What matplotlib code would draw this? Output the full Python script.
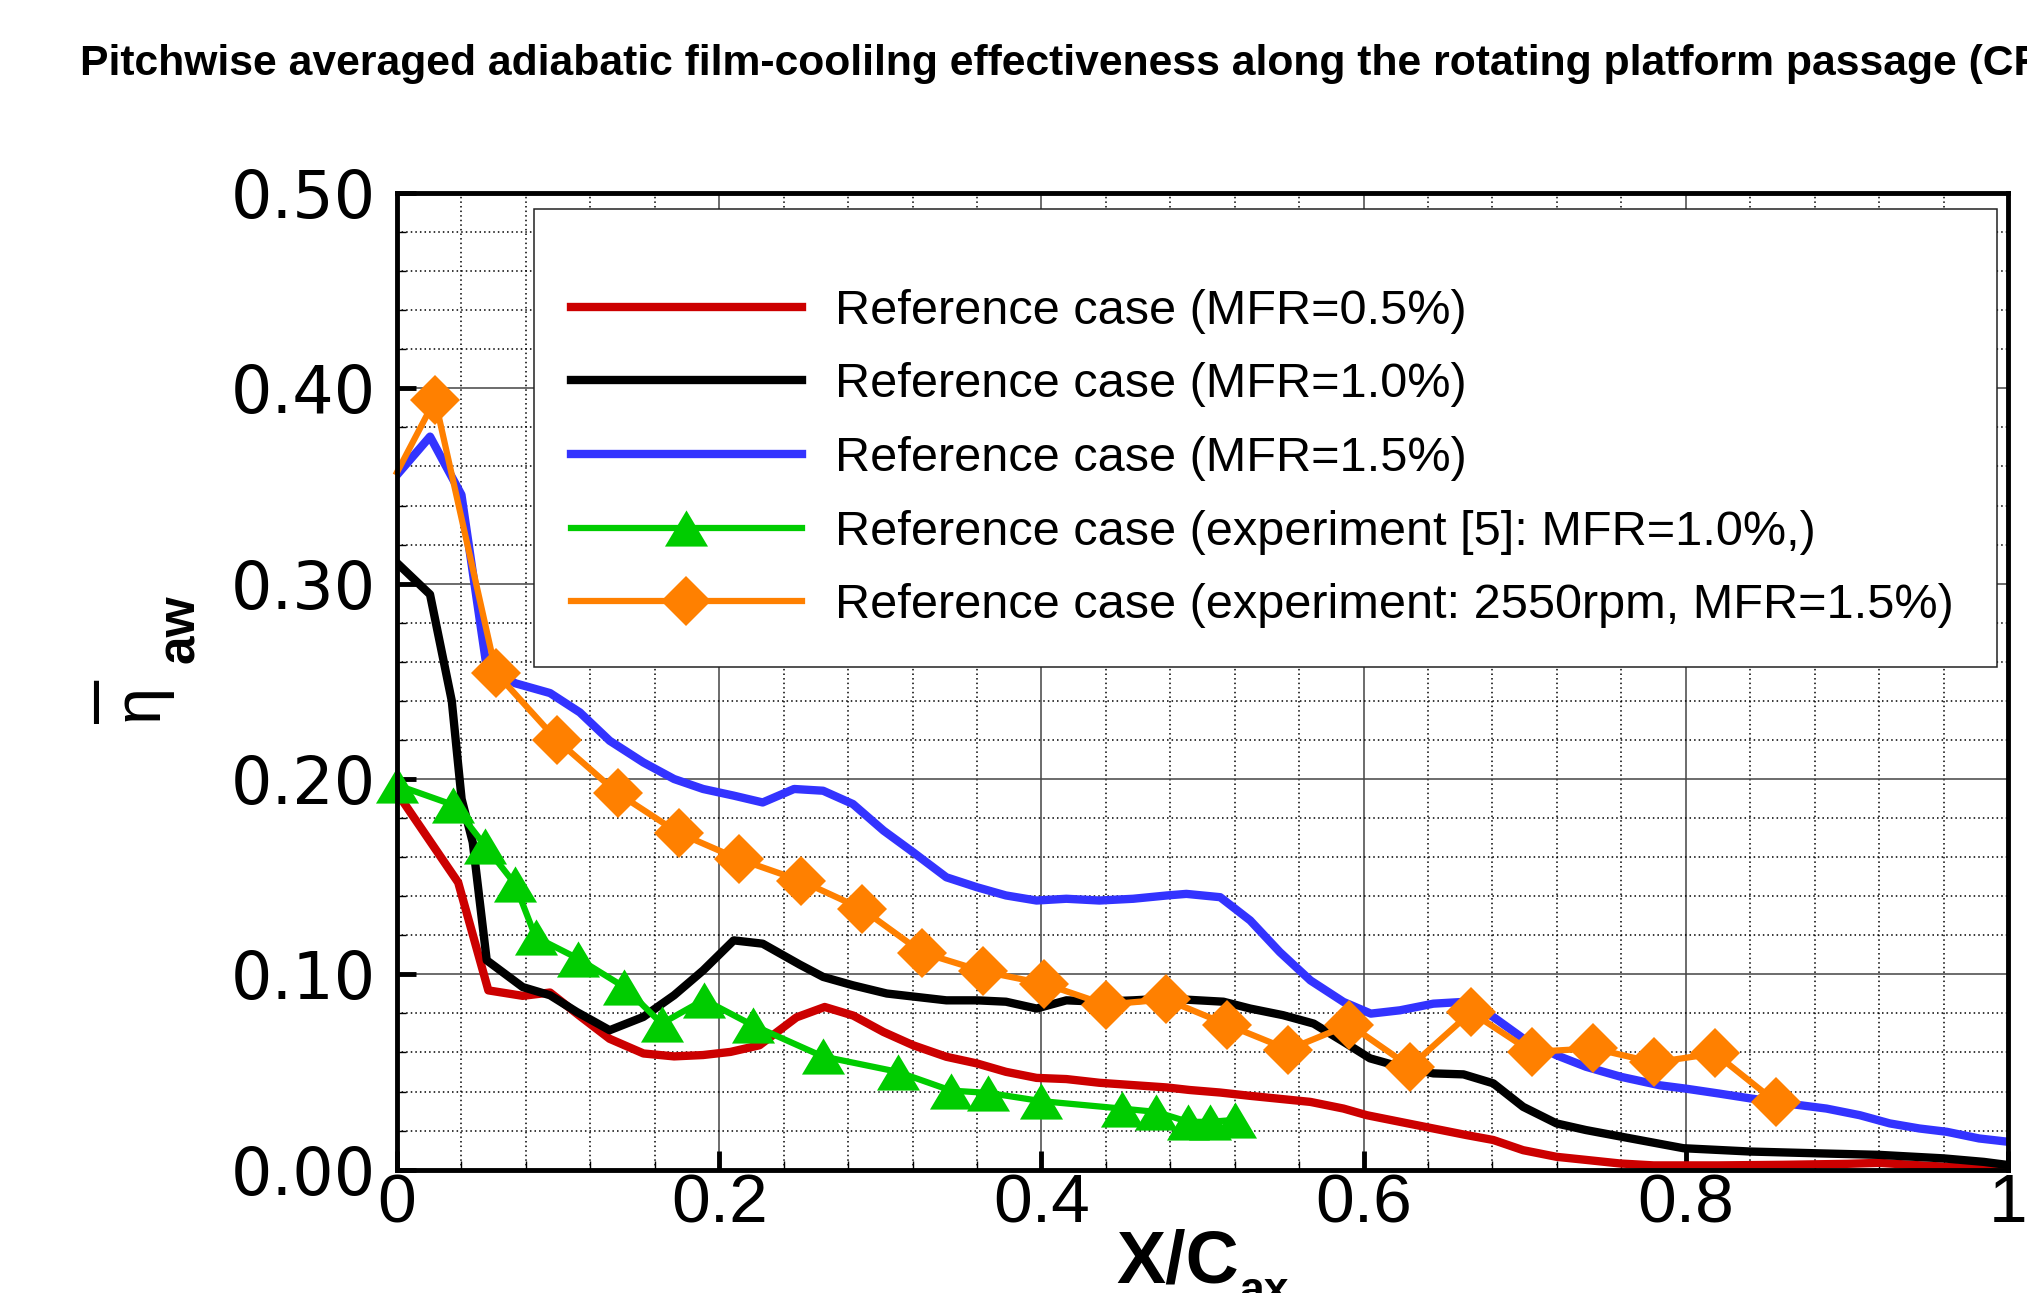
import matplotlib
matplotlib.use('Agg')
import matplotlib.pyplot as plt
from matplotlib.patches import Rectangle
from matplotlib.ticker import MultipleLocator, FormatStrFormatter, FixedLocator, FixedFormatter

matplotlib.rcParams['font.family'] = 'Liberation Sans'

TITLE = ('Pitchwise averaged adiabatic film-coolilng effectiveness along the '
         'rotating platform passage (CFD)')

labels = ['Reference case (MFR=0.5%)',
          'Reference case (MFR=1.0%)',
          'Reference case (MFR=1.5%)',
          'Reference case (experiment [5]: MFR=1.0%,)',
          'Reference case (experiment: 2550rpm, MFR=1.5%)']

# CFD, MFR=0.5%
red_x = [0.0, 0.038, 0.0567, 0.078, 0.095, 0.113, 0.132, 0.153, 0.172, 0.19,
         0.207, 0.225, 0.248, 0.2655, 0.2832, 0.302, 0.3204, 0.341, 0.36, 0.378,
         0.397, 0.4155, 0.436, 0.457, 0.478, 0.492, 0.511, 0.5296, 0.567, 0.5875,
         0.602, 0.6226, 0.6433, 0.664, 0.6805, 0.699, 0.7197, 0.7383, 0.759, 0.78,
         0.82, 0.86, 0.90, 0.92, 0.95, 1.0]
red_y = [0.193, 0.147, 0.0918, 0.089, 0.0907, 0.079, 0.067, 0.0595, 0.058, 0.0587,
         0.0603, 0.0637, 0.078, 0.0833, 0.0789, 0.0705, 0.0637, 0.0578, 0.0544, 0.0501,
         0.047, 0.0464, 0.0445, 0.0433, 0.0421, 0.0408, 0.0395, 0.0378, 0.0347, 0.0313,
         0.0279, 0.0245, 0.0211, 0.0177, 0.0152, 0.010, 0.0066, 0.005, 0.0032, 0.0022,
         0.0022, 0.0025, 0.003, 0.0035, 0.002, 0.0]

# CFD, MFR=1.0%
black_x = [0.0, 0.0205, 0.034, 0.0401, 0.047, 0.0557, 0.078, 0.095, 0.1115, 0.132,
           0.1529, 0.172, 0.19, 0.209, 0.227, 0.25, 0.2645, 0.283, 0.304, 0.341,
           0.36, 0.378, 0.397, 0.4155, 0.436, 0.457, 0.478, 0.513, 0.5296, 0.55,
           0.569, 0.5875, 0.604, 0.6226, 0.6433, 0.662, 0.6805, 0.699, 0.7197, 0.738,
           0.76, 0.7985, 0.84, 0.881, 0.92, 0.96, 0.985, 1.0]
black_y = [0.3106, 0.2945, 0.24, 0.1898, 0.1676, 0.1072, 0.0935, 0.0893, 0.0808, 0.0714,
           0.0782, 0.0893, 0.102, 0.1174, 0.1157, 0.105, 0.0987, 0.0944, 0.0902, 0.0867,
           0.0867, 0.086, 0.0825, 0.0867, 0.086, 0.0867, 0.0876, 0.086, 0.0825, 0.0791,
           0.0748, 0.0655, 0.057, 0.0527, 0.0493, 0.0488, 0.0442, 0.0322, 0.0237, 0.0203,
           0.0169, 0.011, 0.0093, 0.0084, 0.0076, 0.0058, 0.004, 0.0024]

# CFD, MFR=1.5%
blue_x = [0.0, 0.0205, 0.04, 0.0557, 0.0735, 0.095, 0.1135, 0.132, 0.1529, 0.172,
          0.19, 0.209, 0.227, 0.2465, 0.2645, 0.283, 0.302, 0.3204, 0.341, 0.36,
          0.378, 0.397, 0.4155, 0.436, 0.457, 0.478, 0.49, 0.511, 0.5296, 0.548,
          0.567, 0.5875, 0.6045, 0.6226, 0.6433, 0.662, 0.6805, 0.699, 0.7197, 0.738,
          0.76, 0.784, 0.80, 0.8205, 0.84, 0.8625, 0.8873, 0.908, 0.9266, 0.945,
          0.962, 0.982, 1.0]
blue_y = [0.3557, 0.3753, 0.3455, 0.257, 0.249, 0.244, 0.2341, 0.2196, 0.2085, 0.2,
          0.1949, 0.1915, 0.188, 0.1949, 0.194, 0.1872, 0.1736, 0.1625, 0.1497, 0.1446,
          0.1404, 0.1378, 0.1387, 0.1378, 0.1387, 0.1404, 0.1412, 0.1395, 0.1276, 0.1114,
          0.0969, 0.0859, 0.0799, 0.0816, 0.085, 0.0859, 0.0782, 0.0672, 0.0586, 0.0527,
          0.0475, 0.0432, 0.0415, 0.039, 0.0365, 0.0339, 0.0313, 0.0279, 0.0237, 0.0211,
          0.0194, 0.016, 0.0143]

# experiment [5], MFR=1.0%
green_x = [0.0, 0.035, 0.0546, 0.0732, 0.086, 0.1126, 0.1411, 0.1643, 0.1906, 0.2207,
           0.2642, 0.3108, 0.3439, 0.3671, 0.4, 0.4498, 0.4711, 0.4912, 0.5045, 0.5202]
green_y = [0.1969, 0.1867, 0.1659, 0.1463, 0.1191, 0.108, 0.0935, 0.0748, 0.087, 0.074,
           0.058, 0.0501, 0.0405, 0.0393, 0.0351, 0.0313, 0.0296, 0.0245, 0.0245, 0.0255]

# experiment 2550rpm, MFR=1.5% (first point drawn without symbol)
orange_x = [0.0, 0.0236, 0.0615, 0.0991, 0.1369, 0.1748, 0.2125, 0.2505, 0.2884, 0.3261,
            0.364, 0.4018, 0.4399, 0.4774, 0.5154, 0.5533, 0.5912, 0.6289, 0.6667, 0.7043,
            0.7426, 0.7803, 0.8182, 0.8558]
orange_y = [0.357, 0.3942, 0.2543, 0.2201, 0.1928, 0.1724, 0.1589, 0.148, 0.1336, 0.1111,
            0.1015, 0.0952, 0.0845, 0.0872, 0.0742, 0.0615, 0.0743, 0.0527, 0.0807, 0.0603,
            0.0621, 0.0549, 0.0595, 0.0347]

x_ticks = [0, 0.2, 0.4, 0.6, 0.8, 1.0]
x_ticklabels = ['0', '0.2', '0.4', '0.6', '0.8', '1']

TRIANGLE = [(-0.5, -0.42), (0.5, -0.42), (0.0, 0.42), (-0.5, -0.42)]

W, H = 2027, 1293


def main():
    fig = plt.figure(figsize=(W / 100, H / 100), dpi=100)
    ax = fig.add_axes([397 / W, 1 - 1169.7 / H, 1611 / W, 976.7 / H])

    fig.text(80 / W, 1 - 75 / H, TITLE, fontweight='bold', fontsize=30.7,
             ha='left', va='baseline')

    ax.plot(red_x, red_y, color='#cc0000', lw=6, label=labels[0], zorder=3)
    ax.plot(black_x, black_y, color='black', lw=6, label=labels[1], zorder=3)
    ax.plot(blue_x, blue_y, color='#3333ff', lw=6, label=labels[2], zorder=3)
    ax.plot(green_x, green_y, color='#00cc00', lw=4.5, marker=TRIANGLE, ms=31,
            mew=0, label=labels[3], zorder=4, clip_on=False)
    ax.plot(orange_x, orange_y, color='#ff8000', lw=4.5, marker='D', ms=25.5,
            mew=0, markevery=list(range(1, len(orange_x))), label=labels[4],
            zorder=5, clip_on=False)

    ax.set_xlim(0, 1)
    ax.set_ylim(0, 0.5)

    ax.xaxis.set_major_locator(FixedLocator(x_ticks))
    ax.xaxis.set_major_formatter(FixedFormatter(x_ticklabels))
    ax.xaxis.set_minor_locator(MultipleLocator(0.04))
    ax.yaxis.set_major_locator(MultipleLocator(0.1))
    ax.yaxis.set_minor_locator(MultipleLocator(0.02))
    ax.yaxis.set_major_formatter(FormatStrFormatter('%.2f'))

    ax.grid(which='major', color='#444444', lw=1.1, ls='-', zorder=1)
    ax.grid(which='minor', color='black', lw=1.1, ls=(0, (1, 2)), zorder=1)
    ax.set_axisbelow(True)

    ax.tick_params(which='major', direction='in', length=14, width=3.5,
                   top=False, right=False)
    ax.tick_params(which='minor', direction='in', length=6.5, width=1,
                   top=False, right=False)
    ax.tick_params(axis='x', which='major', labelsize=50, pad=2)
    ax.tick_params(axis='y', which='major', labelsize=47, pad=15)
    for lab in ax.get_yticklabels():
        lab.set_family('DejaVu Sans')

    for s in ax.spines.values():
        s.set_linewidth(3.5)
        s.set_zorder(6)

    # x label: X/C with subscript ax (cut by the lower edge as in the source)
    fig.text(1116 / W, 1 - 1283 / H, 'X/C', fontweight='bold', fontsize=53,
             ha='left', va='baseline')
    fig.text(1240 / W, 1 - 1303 / H, 'ax', fontweight='bold', fontsize=32,
             ha='left', va='baseline')

    # y label: eta with overbar and subscript aw
    fig.text(96 / W, 1 - 701 / H, '\u2013', fontsize=56, rotation=90,
             ha='center', va='center')
    fig.text(141 / W, 1 - 702 / H, '\u03b7', fontsize=48, rotation=90,
             ha='center', va='center')
    fig.text(181 / W, 1 - 629 / H, 'aw', fontweight='bold', fontsize=37,
             rotation=90, ha='center', va='center')

    # legend box
    ax.add_patch(Rectangle((0.085, 0.5147), 0.9082, 0.4689, transform=ax.transAxes,
                           facecolor='white', edgecolor='#222222', lw=1.1,
                           zorder=7))
    leg = ax.legend(loc='upper left', bbox_to_anchor=(0.108, 0.902),
                    frameon=False, fontsize=35, borderpad=0, borderaxespad=0,
                    handlelength=4.75, handletextpad=0.68, labelspacing=0.59,
                    numpoints=1)
    leg.set_zorder(8)

    return fig


def save(fig, name):
    fig.savefig(name, dpi=100)


if __name__ == '__main__':
    f = main()
    save(f, 'out.png')
